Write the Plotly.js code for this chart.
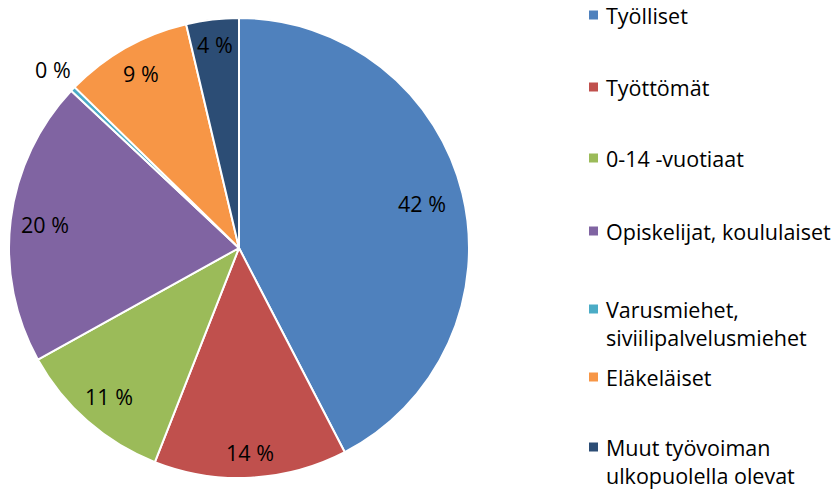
<!DOCTYPE html>
<html><head><meta charset="utf-8">
<script src="https://cdn.plot.ly/plotly-3.0.1.min.js"></script>
<style>html,body{margin:0;padding:0;background:#fff}#chart{width:838px;height:493px}</style>
</head><body><div id="chart"></div>
<script>
const categories = ["Työlliset","Työttömät","0-14 -vuotiaat","Opiskelijat, koululaiset","Varusmiehet, siviilipalvelusmiehet","Eläkeläiset","Muut työvoiman ulkopuolella olevat"];
const legendLabels = ["Työlliset","Työttömät","0-14 -vuotiaat","Opiskelijat, koululaiset","Varusmiehet,<br>siviilipalvelusmiehet","Eläkeläiset","Muut työvoiman<br>ulkopuolella olevat"];
const values = [42.5, 13.6, 11.0, 20.1, 0.35, 9.0, 3.7];
const colors = ["#4F81BD","#C0504D","#9BBB59","#8064A2","#4BACC6","#F79646","#2C4D75"];

const W = 838, H = 493;
const cx = 239, cy = 248, R = 230;
const FONT = "'Open Sans', Lato, sans-serif";
const FS = 21.5;
const total = values.reduce((a,b)=>a+b,0);
const pct = values.map(v => Math.round(v/total*100) + " %");
const labelRadius = [0.82, 0.89, 0.86, 0.85, 1.12, 0.87, 0.89];

const trace = {
  type: "pie", values: values, labels: categories, sort: false,
  direction: "clockwise", rotation: 0,
  marker: {colors: colors, line: {color: "#ffffff", width: 2}},
  textinfo: "none", hoverinfo: "label+percent",
  domain: {x: [(cx-R)/W, (cx+R)/W], y: [1-(cy+R)/H, 1-(cy-R)/H]},
  showlegend: false
};

const annotations = [];
let cum = 0;
values.forEach((v,i) => {
  const mid = (cum + v/2)/total*2*Math.PI; cum += v;
  const rr = labelRadius[i]*R;
  const px = cx + rr*Math.sin(mid), py = cy - rr*Math.cos(mid);
  annotations.push({xref:"paper", yref:"paper", x: px/W, y: 1-py/H, text: pct[i], showarrow:false,
    xanchor:"center", yanchor:"middle", font:{family:FONT, size:FS, color:"#000"}});
});

const legY = [15, 87, 158, 231, 323.5, 377, 461.5];
const markY = [15, 87, 158, 231, 309, 377, 447];
const shapes = [];
legendLabels.forEach((t,i) => {
  annotations.push({xref:"paper", yref:"paper", x: 605/W, y: 1-legY[i]/H, text: t, showarrow:false,
    xanchor:"left", yanchor:"middle", align:"left", borderpad:0, font:{family:FONT, size:FS, color:"#000"}});
  shapes.push({type:"rect", xref:"paper", yref:"paper", x0: 589/W, x1: 598/W,
    y0: 1-(markY[i]+4.5)/H, y1: 1-(markY[i]-4.5)/H, fillcolor: colors[i], line:{width:0}});
});

Plotly.newPlot("chart", [trace], {
  width: W, height: H, margin: {l:0, r:0, t:0, b:0},
  paper_bgcolor: "#fff", plot_bgcolor: "#fff",
  annotations: annotations, shapes: shapes, showlegend: false
}, {staticPlot: true});
</script></body></html>
